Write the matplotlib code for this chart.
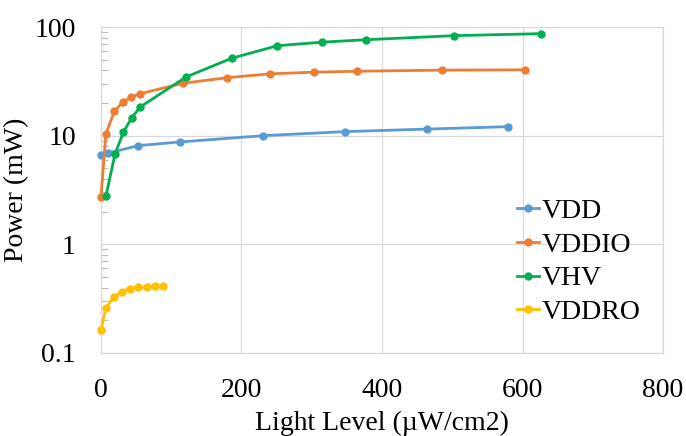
import numpy as np
import matplotlib
matplotlib.use("Agg")
import matplotlib.pyplot as plt
from matplotlib.ticker import LogLocator, FixedLocator, NullFormatter

plt.rcParams['font.family'] = ['Liberation Serif', 'DejaVu Serif']

# light level (uW/cm2) and power (mW) per rail
vdd_x = [0, 10, 53, 112, 231, 348, 464, 579]
vdd_y = [6.6, 6.9, 8.1, 8.75, 10.0, 10.9, 11.5, 12.1]

vddio_x = [0, 7, 19, 31, 43, 55, 117, 180, 241, 303, 365, 485, 604]
vddio_y = [2.7, 10.4, 16.7, 20.4, 22.6, 24.3, 30.4, 34.2, 37.1, 38.4, 39.2, 40.1, 40.4]

vhv_x = [7, 20, 32, 44, 56, 121, 186, 251, 314, 377, 503, 626]
vhv_y = [2.77, 6.8, 10.8, 14.7, 18.4, 34.7, 51.6, 67.3, 72.5, 76.4, 83.3, 86.9]

vddro_x = [0, 7, 18, 30, 41, 53, 65, 77, 88]
vddro_y = [0.164, 0.259, 0.329, 0.368, 0.389, 0.401, 0.405, 0.41, 0.41]

series = [
    ("VDD", vdd_x, vdd_y, "#5B9BD5"),
    ("VDDIO", vddio_x, vddio_y, "#ED7D31"),
    ("VHV", vhv_x, vhv_y, "#00B050"),
    ("VDDRO", vddro_x, vddro_y, "#FFC000"),
]

fig = plt.figure(figsize=(6.86, 4.36), dpi=100)
ax = fig.add_axes([0.1472, 0.1904, 0.8193, 0.7476])

for name, x, y, c in series:
    ax.plot(x, y, color=c, linewidth=2.0, marker='o', markersize=5,
            label=name, clip_on=False, zorder=3)

ax.set_yscale('log')
ax.set_xlim(0, 800)
ax.set_ylim(0.1, 100)
ax.xaxis.set_major_locator(FixedLocator([0, 200, 400, 600, 800]))
ax.yaxis.set_major_locator(FixedLocator([0.1, 1, 10, 100]))
ax.set_yticklabels(['0.1', '1', '10', '100'])
ax.yaxis.set_minor_locator(LogLocator(base=10, subs=np.arange(2, 10)))
ax.yaxis.set_minor_formatter(NullFormatter())

ax.tick_params(axis='both', which='major', length=0, pad=18, labelsize=20)
ax.tick_params(axis='y', which='minor', direction='in', length=5, width=0.8, color='#BFBFBF')
ax.grid(True, which='major', color='#D9D9D9', linewidth=0.9)
for s in ax.spines.values():
    s.set_color('#D9D9D9')
    s.set_linewidth(0.9)

ax.set_xlabel('Light Level (\u00b5W/cm2)', fontsize=20, labelpad=6)
ax.set_ylabel('Power (mW)', fontsize=20, labelpad=4)

leg = ax.legend(loc='center left', bbox_to_anchor=(0.72, 0.28), frameon=False,
                fontsize=20, handlelength=0.8, handletextpad=0.1,
                labelspacing=0.3, borderaxespad=0)

fig.savefig('out.png', dpi=100)
